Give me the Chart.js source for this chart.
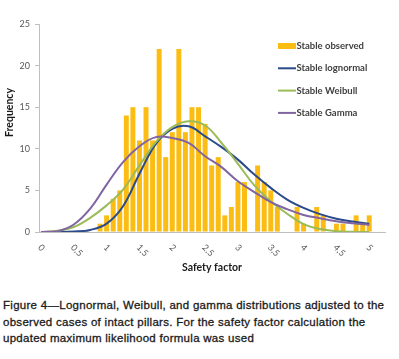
<!DOCTYPE html>
<html lang="en">
<head>
    <meta charset="UTF-8">
    <title>Figure 4 - safety factor distributions</title>
    <script src="https://cdn.jsdelivr.net/npm/chart.js"></script>
    <style>
        body {
            margin: 0;
            background: #fff;
            width: 399px;
            height: 359px;
            overflow: hidden;
            position: relative;
        }
        #chart {
            position: absolute;
            left: 0;
            top: 0;
        }
        .caption {
            position: absolute;
            left: 3px;
            top: 297px;
            font-family: "Liberation Sans", Arial, sans-serif;
            font-size: 11.5px;
            letter-spacing: 0.28px;
            line-height: 16.5px;
            color: #1a1a1a;
            -webkit-text-stroke: 0.3px #1a1a1a;
            white-space: nowrap;
        }
    </style>
</head>
<body>
    <canvas id="chart" width="399" height="290"></canvas>
    <div class="caption">
        Figure 4—Lognormal, Weibull, and gamma distributions adjusted to the<br>
        observed cases of intact pillars. For the safety factor calculation the<br>
        updated maximum likelihood formula was used
    </div>

    <script>
        // observed histogram (bin centres, 0.1 wide)
        const binCenters = [0.9, 1.0, 1.1, 1.2, 1.3, 1.4, 1.5, 1.6, 1.7, 1.8,
                            1.9, 2.0, 2.1, 2.2, 2.3, 2.4, 2.5, 2.6, 2.7, 2.8,
                            2.9, 3.0, 3.1, 3.2, 3.3, 3.4, 3.5, 3.6, 3.7, 3.8,
                            3.9, 4.0, 4.1, 4.2, 4.3, 4.4, 4.5, 4.6, 4.7, 4.8,
                            4.9, 5.0];
        const observed = [1, 2, 4, 5, 14, 15, 11, 15, 11, 22,
                          9, 12, 22, 12, 15, 15, 13, 8, 9, 2,
                          3, 6, 6, 0, 8, 6, 5, 3, 0, 0,
                          3, 1, 0, 3, 2, 0, 1, 1, 0, 2,
                          1, 2];

        // fitted curves
        const curveX = [0, 0.25, 0.5, 0.75, 1, 1.25, 1.5, 1.75, 2, 2.25, 2.5,
                        2.75, 3, 3.25, 3.5, 3.75, 4, 4.25, 4.5, 4.75, 5];
        const lognormal = [0, 0, 0.05, 0.25, 1.0, 3.1, 7.0, 10.6, 12.4, 12.7, 11.5,
                           10.2, 8.7, 6.9, 5.3, 3.9, 2.9, 2.15, 1.6, 1.25, 1.0];
        const weibull = [0, 0.15, 0.6, 1.7, 3.2, 5.1, 8.0, 10.8, 12.6, 13.3, 12.8,
                         10.7, 8.2, 5.6, 3.7, 2.2, 0.95, 0.35, 0.1, 0.03, 0];
        const gamma = [0, 0.1, 0.9, 2.8, 5.7, 8.4, 10.3, 11.4, 11.3, 10.7, 9.1,
                       7.8, 6.1, 4.8, 3.6, 2.75, 2.05, 1.65, 1.3, 1.05, 0.85];

        const seriesNames = ['Stable observed', 'Stable lognormal', 'Stable Weibull', 'Stable Gamma'];
        const xTicks = [0, 0.5, 1, 1.5, 2, 2.5, 3, 3.5, 4, 4.5, 5];
        const xTickLabels = ['0', '0,5', '1', '1,5', '2', '2,5', '3', '3,5', '4', '4,5', '5'];
        const yTicks = [0, 5, 10, 15, 20, 25];

        const pts = (xs, ys) => xs.map((x, i) => ({ x: x, y: ys[i] }));

        // rotated x labels, y title and legend drawn on top
        const extras = {
            id: 'extras',
            afterDraw(chart) {
                const ctx = chart.ctx;
                const xs = chart.scales.x;
                ctx.save();
                ctx.fillStyle = '#595959';
                ctx.font = '9px Lato';
                ctx.textAlign = 'left';
                ctx.textBaseline = 'middle';
                xTicks.forEach((v, i) => {
                    ctx.save();
                    ctx.translate(xs.getPixelForValue(v) - 1.5, 246);
                    ctx.rotate(Math.PI / 4);
                    ctx.fillText(xTickLabels[i], 0, 0);
                    ctx.restore();
                });

                ctx.save();
                ctx.fillStyle = '#1a1a1a';
                ctx.font = 'bold 10.5px Lato';
                ctx.textAlign = 'center';
                ctx.translate(10, 112.5);
                ctx.rotate(-Math.PI / 2);
                ctx.fillText('Frequency', 0, 0);
                ctx.restore();

                ctx.font = 'bold 9.5px Lato';
                chart.data.datasets.forEach((ds, i) => {
                    const y = 46 + i * 22.3;
                    if (ds.type === 'line') {
                        ctx.strokeStyle = ds.borderColor;
                        ctx.lineWidth = 2;
                        ctx.beginPath();
                        ctx.moveTo(278, y);
                        ctx.lineTo(296, y);
                        ctx.stroke();
                    } else {
                        ctx.fillStyle = ds.backgroundColor;
                        ctx.fillRect(278, y - 3, 18, 6);
                    }
                    ctx.fillStyle = '#404040';
                    ctx.fillText(ds.label, 296.5, y);
                });
                ctx.restore();
            }
        };

        const lineStyle = color => ({
            type: 'line',
            borderColor: color,
            borderWidth: 2,
            pointRadius: 0,
            tension: 0.4
        });

        new Chart(document.getElementById('chart'), {
            type: 'bar',
            data: {
                datasets: [{
                    label: seriesNames[0],
                    data: pts(binCenters, observed),
                    backgroundColor: '#fbbd13',
                    barPercentage: 0.76,
                    categoryPercentage: 1,
                    order: 4
                },
                Object.assign(lineStyle('#2a4a8a'), { label: seriesNames[1], data: pts(curveX, lognormal), order: 3 }),
                Object.assign(lineStyle('#9bbb59'), { label: seriesNames[2], data: pts(curveX, weibull), order: 2 }),
                Object.assign(lineStyle('#8064a2'), { label: seriesNames[3], data: pts(curveX, gamma), order: 1 })
                ]
            },
            options: {
                responsive: false,
                animation: false,
                layout: { padding: { top: 24, right: 14, bottom: 0, left: 0 } },
                plugins: {
                    legend: { display: false },
                    tooltip: { enabled: false }
                },
                scales: {
                    x: {
                        type: 'linear',
                        min: -0.03,
                        max: 5.24,
                        offset: false,
                        afterBuildTicks: s => { s.ticks = xTicks.map(v => ({ value: v })); },
                        afterFit: s => { s.height = 58; },
                        ticks: { display: false },
                        grid: { display: false },
                        border: { color: '#bfbfbf' },
                        title: {
                            display: true,
                            text: 'Safety factor',
                            color: '#1a1a1a',
                            font: { family: 'Lato', size: 10.5, weight: 'bold' },
                            padding: { top: 0, bottom: 16 }
                        }
                    },
                    y: {
                        min: 0,
                        max: 25,
                        afterBuildTicks: s => { s.ticks = yTicks.map(v => ({ value: v })); },
                        afterFit: s => { s.width = 39; },
                        ticks: {
                            color: '#595959',
                            font: { family: 'Lato', size: 9 },
                            padding: 5
                        },
                        grid: { drawOnChartArea: false, tickLength: 4, color: '#bfbfbf' },
                        border: { color: '#bfbfbf' }
                    }
                }
            },
            plugins: [extras]
        });
    </script>
</body>
</html>
